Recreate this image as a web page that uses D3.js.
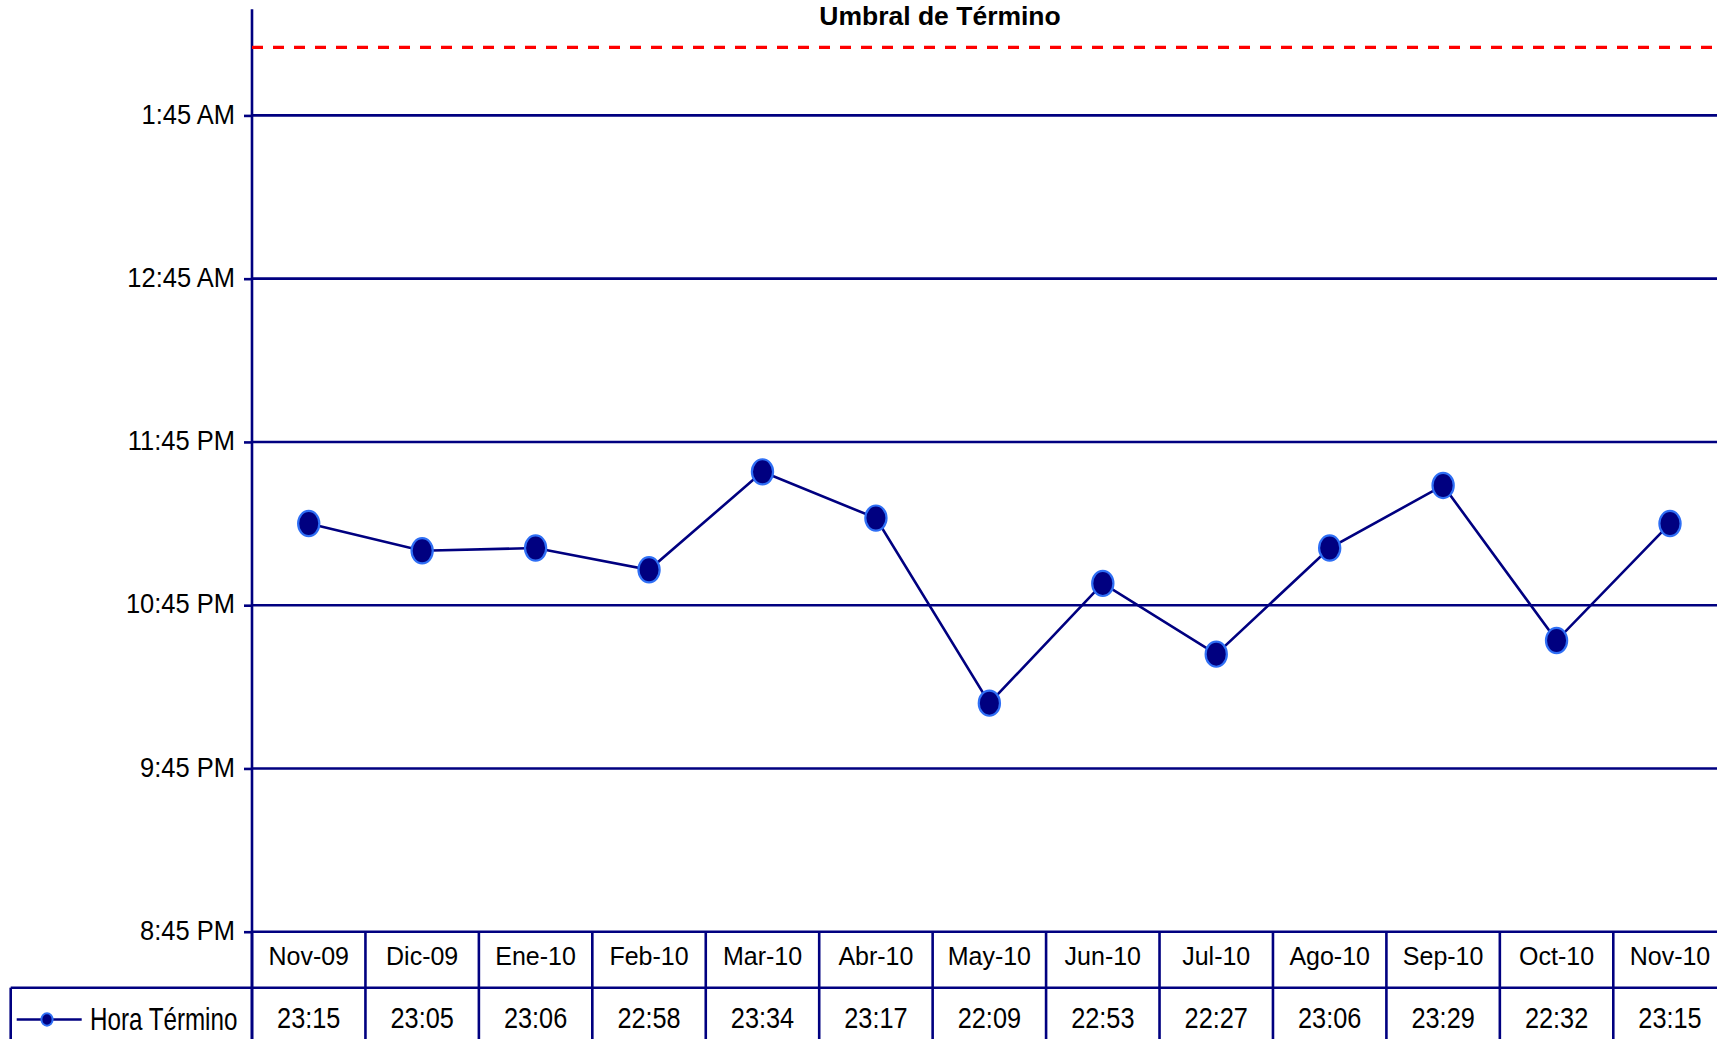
<!DOCTYPE html>
<html>
<head>
<meta charset="utf-8">
<script src="https://cdn.jsdelivr.net/npm/d3@7"></script>
<style>
  html, body { margin: 0; padding: 0; background: #fff; overflow: hidden; }
  svg { display: block; font-family: "Liberation Sans", Arial, sans-serif; }
</style>
</head>
<body>
<svg id="chart" width="1717" height="1039"></svg>
<script>
// ---- data ----
const categories = ["Nov-09","Dic-09","Ene-10","Feb-10","Mar-10","Abr-10","May-10","Jun-10","Jul-10","Ago-10","Sep-10","Oct-10","Nov-10"];
const horaTermino = ["23:15","23:05","23:06","22:58","23:34","23:17","22:09","22:53","22:27","23:06","23:29","22:32","23:15"];
const seriesName = "Hora Término";
const thresholdLabel = "Umbral de Término";
const thresholdTime = "26:10";            // 2:10 AM (next day)
const tickTimes = ["20:45","21:45","22:45","23:45","24:45","25:45"];
const tickLabels = ["8:45 PM","9:45 PM","10:45 PM","11:45 PM","12:45 AM","1:45 AM"];
const yDomainTimes = ["20:45","26:24"];

// ---- helpers ----
const toMin = s => { const [h, m] = s.split(":").map(Number); return h * 60 + m; };
const values = horaTermino.map(toMin);

const svg = d3.select("#chart");
const navy = "#000080";

const plotLeft = 252, plotTop = 9.3, plotBottom = 931.7;
const colW = 113.44;

const x = d3.scaleBand().domain(categories).range([plotLeft, plotLeft + colW * categories.length]).padding(0);
const y = d3.scaleLinear().domain(yDomainTimes.map(toMin)).range([plotBottom, plotTop]);

// gridlines
svg.append("g").selectAll("line").data(tickTimes).join("line")
  .attr("x1", plotLeft).attr("x2", 1760)
  .attr("y1", d => y(toMin(d))).attr("y2", d => y(toMin(d)))
  .attr("stroke", navy).attr("stroke-width", 2.6);

// y axis
const yAxis = d3.axisLeft(y)
  .tickValues(tickTimes.map(toMin))
  .tickFormat((d, i) => tickLabels[i])
  .tickSizeInner(8).tickSizeOuter(0).tickPadding(9);
const ag = svg.append("g").attr("transform", `translate(${plotLeft},0)`).call(yAxis);
ag.select(".domain").remove();
ag.selectAll(".tick line").attr("stroke", navy).attr("stroke-width", 2.6);
ag.selectAll(".tick text")
  .attr("fill", "#000").attr("font-size", 25.5)
  .attr("font-family", "'Liberation Sans', Arial, sans-serif")
  .attr("dy", "0.27em")
  .attr("transform", "scale(1,1.1)");

// axis vertical line
svg.append("line").attr("x1", plotLeft).attr("x2", plotLeft)
  .attr("y1", plotTop).attr("y2", 1039)
  .attr("stroke", navy).attr("stroke-width", 2.6);

// threshold
const yT = y(toMin(thresholdTime));
svg.append("line").attr("x1", plotLeft).attr("x2", 1760)
  .attr("y1", yT).attr("y2", yT)
  .attr("stroke", "#ff0000").attr("stroke-width", 3.2)
  .attr("stroke-dasharray", "11,10");
svg.append("text").attr("x", 940).attr("y", 24.5)
  .attr("text-anchor", "middle").attr("font-size", 26.5).attr("font-weight", "bold")
  .text(thresholdLabel);

// data table
const rowTop = plotBottom, rowMid = 987.7;
const tbl = svg.append("g");
const bounds = categories.map(c => x(c)).concat([x(categories[categories.length - 1]) + x.bandwidth()]);
tbl.selectAll("line.v").data(bounds).join("line")
  .attr("x1", d => d).attr("x2", d => d)
  .attr("y1", rowTop).attr("y2", 1039)
  .attr("stroke", navy).attr("stroke-width", 2.6);
tbl.append("line").attr("x1", 10.7).attr("x2", 1760).attr("y1", rowMid).attr("y2", rowMid)
  .attr("stroke", navy).attr("stroke-width", 2.6);
tbl.append("line").attr("x1", 10.7).attr("x2", 10.7).attr("y1", rowMid).attr("y2", 1039)
  .attr("stroke", navy).attr("stroke-width", 2.6);

tbl.selectAll("g.cat").data(categories).join("g")
  .attr("transform", d => `translate(${x(d) + x.bandwidth() / 2},965)`)
  .append("text").attr("text-anchor", "middle").attr("font-size", 25)
  .attr("transform", "scale(1,1.03)").text(d => d);

tbl.selectAll("g.val").data(categories).join("g")
  .attr("transform", d => `translate(${x(d) + x.bandwidth() / 2},1028.3)`)
  .append("text").attr("text-anchor", "middle").attr("font-size", 25.3)
  .attr("transform", "scale(1,1.2)").text((d, i) => horaTermino[i]);

// legend
const lg = svg.append("g");
lg.append("line").attr("x1", 16.7).attr("x2", 81.7).attr("y1", 1019.5).attr("y2", 1019.5)
  .attr("stroke", navy).attr("stroke-width", 2.6);
lg.append("ellipse").attr("cx", 47).attr("cy", 1019.5).attr("rx", 5.6).attr("ry", 6.2)
  .attr("fill", navy).attr("stroke", "#2f6ff5").attr("stroke-width", 2);
lg.append("g").attr("transform", "translate(90,1029.5)")
  .append("text").attr("font-size", 24.2).attr("transform", "scale(1,1.3)").text(seriesName);

// series line
const line = d3.line().x((d, i) => x(categories[i]) + x.bandwidth() / 2).y(d => y(d));
svg.append("path").datum(values).attr("d", line)
  .attr("fill", "none").attr("stroke", navy).attr("stroke-width", 2.6);

svg.append("g").selectAll("ellipse").data(values).join("ellipse")
  .attr("cx", (d, i) => x(categories[i]) + x.bandwidth() / 2)
  .attr("cy", d => y(d))
  .attr("rx", 10.6).attr("ry", 12.6)
  .attr("fill", navy).attr("stroke", "#2f6ff5").attr("stroke-width", 2.2);
</script>
</body>
</html>
